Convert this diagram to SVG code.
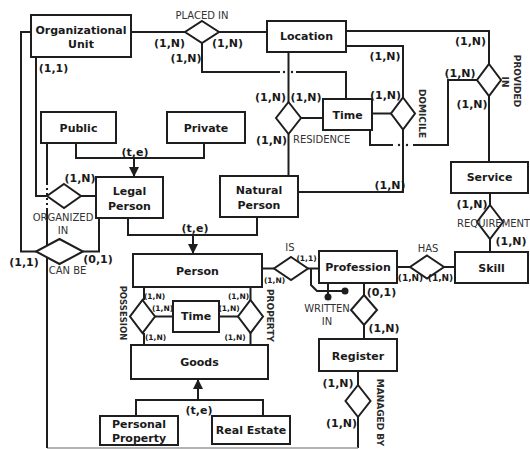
<svg xmlns="http://www.w3.org/2000/svg" width="530" height="449" viewBox="0 0 530 449">
  <defs>
    <style>
      .ent rect { fill: #fff; stroke: #1e1e1e; stroke-width: 2; }
      .ent text { font-family: "DejaVu Sans", Verdana, sans-serif; font-weight: bold; font-size: 11px; fill: #1a1a1a; text-anchor: middle; }
      .rel polygon { fill: #fff; stroke: #1e1e1e; stroke-width: 2; }
      .lines path { fill: none; stroke: #1e1e1e; stroke-width: 2; }
      .lines .dot { fill: #1e1e1e; stroke: none; }
      .card { font-family: "DejaVu Sans", Verdana, sans-serif; font-weight: bold; font-size: 11px; fill: #1a1a1a; text-anchor: middle; }
      .sm { font-size: 7.5px; }
      .md { font-size: 9px; }
      .name { font-family: "DejaVu Sans", Verdana, sans-serif; font-size: 10px; fill: #333; text-anchor: middle; }
      .vname { font-family: "DejaVu Sans", Verdana, sans-serif; font-weight: bold; font-size: 9px; fill: #2a2a2a; text-anchor: middle; }
    </style>
    <marker id="arr" viewBox="0 0 10 10" refX="9" refY="5" markerWidth="5" markerHeight="5" orient="auto">
      <path d="M0,0 L10,5 L0,10 z" fill="#1e1e1e"/>
    </marker>
  </defs>

  <rect width="530" height="449" fill="#fff"/>

  <!-- connectors -->
  <g id="connectors" class="lines">
    <path d="M131,32 H185"/>
    <path d="M219,32 H267"/>
    <path d="M202,43 V72 H280"/>
    <circle class="dot" cx="284" cy="72" r="1.2"/>
    <circle class="dot" cx="292" cy="72" r="1.2"/>
    <path d="M296,72 H346 V99"/>
    <path d="M288.5,52 V102"/>
    <path d="M301,118 H323"/>
    <path d="M288.5,134 V176"/>
    <path d="M346,46 H403 V97.5"/>
    <path d="M372,113.5 H391"/>
    <path d="M403,129.5 V192 H298"/>
    <path d="M346,31 H489 V64"/>
    <path d="M477,80 H448 V145 H413"/>
    <circle class="dot" cx="399" cy="145" r="1.2"/>
    <circle class="dot" cx="407" cy="145" r="1.2"/>
    <path d="M393,145 H370 V130"/>
    <path d="M489,96 V162"/>
    <path d="M490,193 V205"/>
    <path d="M490,239 V252"/>
    <path d="M455,267 H444"/>
    <path d="M410,267 H397"/>
    <path d="M319,268.5 H308"/>
    <path d="M274,268.5 H262"/>
    <path d="M311,268.5 V285 L317,291 H342"/>
    <circle class="dot" cx="345" cy="291" r="3.5"/>
    <path d="M328,283 V294"/>
    <circle class="dot" cx="328" cy="297" r="3.5"/>
    <path d="M364,283 V295"/>
    <path d="M364,325 V339"/>
    <path d="M358,371 V385"/>
    <path d="M358,417 V448"/>
    <path d="M47,448 H358" style="stroke:#9a9a9a;stroke-width:1.5"/>
    <path d="M47,448 V210"/>
    <path d="M47,183 V210" style="stroke-dasharray:2 3"/>
    <path d="M47,183 V143"/>
    <path d="M36,57 V196 H47"/>
    <path d="M81,196 H96"/>
    <path d="M31,32 H21 V251.5 H36"/>
    <path d="M83,251.5 H99 V218"/>
    <path d="M76,143 V158 H204 V143"/>
    <path d="M134,158 V176" marker-end="url(#arr)"/>
    <path d="M128,218 V235 H257 V217"/>
    <path d="M193,235 V253" marker-end="url(#arr)"/>
    <path d="M144,287 V300"/>
    <path d="M144,333 V345"/>
    <path d="M250.5,287 V300"/>
    <path d="M250.5,333 V345"/>
    <path d="M155,316.5 H173"/>
    <path d="M219,316.5 H238"/>
    <path d="M136,416 V400 H263 V416"/>
    <path d="M198,400 V380" marker-end="url(#arr)"/>
  </g>

  <!-- entities -->
  <g id="organizational-unit" class="ent"><rect x="31" y="15" width="100" height="42"/><text x="81" y="34">Organizational</text><text x="81" y="48">Unit</text></g>
  <g id="location" class="ent"><rect x="267" y="21" width="79" height="31"/><text x="306.5" y="40">Location</text></g>
  <g id="time-location" class="ent"><rect x="323" y="99" width="49" height="31"/><text x="347.5" y="119">Time</text></g>
  <g id="public" class="ent"><rect x="41" y="112" width="75" height="31"/><text x="78.5" y="132">Public</text></g>
  <g id="private" class="ent"><rect x="167" y="112" width="78" height="31"/><text x="206" y="132">Private</text></g>
  <g id="legal-person" class="ent"><rect x="96" y="177" width="67" height="41"/><text x="129.5" y="195">Legal</text><text x="129.5" y="210">Person</text></g>
  <g id="natural-person" class="ent"><rect x="220" y="176" width="78" height="41"/><text x="259" y="194">Natural</text><text x="259" y="209">Person</text></g>
  <g id="service" class="ent"><rect x="451" y="162" width="77" height="31"/><text x="489.5" y="181">Service</text></g>
  <g id="person" class="ent"><rect x="133" y="254" width="129" height="33"/><text x="197.5" y="275">Person</text></g>
  <g id="profession" class="ent"><rect x="319" y="251" width="78" height="32"/><text x="358" y="271">Profession</text></g>
  <g id="skill" class="ent"><rect x="455" y="252" width="73" height="31"/><text x="491.5" y="272">Skill</text></g>
  <g id="time-goods" class="ent"><rect x="173" y="301" width="46" height="31"/><text x="196" y="320">Time</text></g>
  <g id="goods" class="ent"><rect x="131" y="345" width="137" height="34"/><text x="199.5" y="366">Goods</text></g>
  <g id="register" class="ent"><rect x="319" y="339" width="78" height="32"/><text x="358" y="360">Register</text></g>
  <g id="personal-property" class="ent"><rect x="100" y="416" width="78" height="29"/><text x="139" y="428">Personal</text><text x="139" y="442">Property</text></g>
  <g id="real-estate" class="ent"><rect x="212" y="416" width="78" height="28"/><text x="251" y="434">Real Estate</text></g>

  <!-- relationships -->
  <g id="placed-in" class="rel"><polygon points="202,21 219,32 202,43 185,32"/><text class="name" x="202" y="18.5">PLACED  IN</text></g>
  <g id="residence" class="rel"><polygon points="288.5,102 301,118 288.5,134 276,118"/><text class="name" x="293" y="143" style="text-anchor:start">RESIDENCE</text></g>
  <g id="domicile" class="rel"><polygon points="403,97.5 415,113.5 403,129.5 391,113.5"/><text class="vname" transform="translate(418.5,113.5) rotate(90)">DOMICILE</text></g>
  <g id="provided-in" class="rel"><polygon points="489,64 501,80 489,96 477,80"/><text class="vname" transform="translate(513.5,81) rotate(90)">PROVIDED</text><text class="vname" transform="translate(501.5,82) rotate(90)">IN</text></g>
  <g id="organized-in" class="rel"><polygon points="64,184 81,196 64,208 47,196"/><text class="name" x="63" y="221">ORGANIZED</text><text class="name" x="63" y="234">IN</text></g>
  <g id="can-be" class="rel"><polygon points="59.5,239 83,251.5 59.5,264 36,251.5"/><text class="name" x="67.5" y="274">CAN BE</text></g>
  <g id="requirement" class="rel"><polygon points="490,205 503,222 490,239 477,222"/><text class="name" x="457" y="227" style="text-anchor:start">REQUIREMENT</text></g>
  <g id="is" class="rel"><polygon points="291,257 308,268.5 291,280 274,268.5"/><text class="name" x="290" y="251">IS</text></g>
  <g id="has" class="rel"><polygon points="427,255.5 444,267 427,278.5 410,267"/><text class="name" x="428" y="252">HAS</text></g>
  <g id="possesion" class="rel"><polygon points="142.5,300 155,316.5 142.5,333 130,316.5"/><text class="vname" style="font-size:8.5px" transform="translate(120,313) rotate(90)">POSSESION</text></g>
  <g id="property" class="rel"><polygon points="250.5,300 263,316.5 250.5,333 238,316.5"/><text class="vname" transform="translate(266.5,315.5) rotate(90)">PROPERTY</text></g>
  <g id="written-in" class="rel"><polygon points="364,295 377,310 364,325 351,310"/><text class="name" x="327" y="312">WRITTEN</text><text class="name" x="327" y="325">IN</text></g>
  <g id="managed-by" class="rel"><polygon points="358,385 370.5,401 358,417 345.5,401"/><text class="vname" transform="translate(376.5,412.5) rotate(90)">MANAGED BY</text></g>

  <!-- cardinalities and specialisation labels -->
  <g id="cardinalities">
    <text class="card" x="169.5" y="47">(1,N)</text>
    <text class="card" x="227.5" y="47">(1,N)</text>
    <text class="card" x="186" y="62">(1,N)</text>
    <text class="card" x="53.5" y="72">(1,1)</text>
    <text class="card" x="270.5" y="101">(1,N)</text>
    <text class="card" x="306" y="101">(1,N)</text>
    <text class="card" x="271.5" y="144">(1,N)</text>
    <text class="card" x="385" y="60">(1,N)</text>
    <text class="card" x="385.5" y="99">(1,N)</text>
    <text class="card" x="390" y="189">(1,N)</text>
    <text class="card" x="470.5" y="45">(1,N)</text>
    <text class="card" x="460" y="77">(1,N)</text>
    <text class="card" x="472" y="108">(1,N)</text>
    <text class="card" x="472" y="208">(1,N)</text>
    <text class="card" x="511" y="245">(1,N)</text>
    <text class="card md" x="410.5" y="281">(1,N)</text>
    <text class="card md" x="440.5" y="281">(1,N)</text>
    <text class="card sm" x="306.5" y="261">(1,1)</text>
    <text class="card sm" x="274.5" y="283">(1,N)</text>
    <text class="card sm" x="154.5" y="299">(1,N)</text>
    <text class="card sm" x="162.5" y="311">(1,N)</text>
    <text class="card sm" x="155.5" y="340">(1,N)</text>
    <text class="card sm" x="238.5" y="299">(1,N)</text>
    <text class="card sm" x="229" y="311">(1,N)</text>
    <text class="card sm" x="235" y="340">(1,N)</text>
    <text class="card" x="381.5" y="296">(0,1)</text>
    <text class="card" x="384" y="332">(1,N)</text>
    <text class="card" x="338" y="387">(1,N)</text>
    <text class="card" x="341.5" y="427">(1,N)</text>
    <text class="card" x="80" y="182">(1,N)</text>
    <text class="card" x="24" y="266">(1,1)</text>
    <text class="card" x="98" y="263">(0,1)</text>
    <text class="card" x="135" y="156">(t,e)</text>
    <text class="card" x="195" y="232">(t,e)</text>
    <text class="card" x="199" y="414">(t,e)</text>
  </g>
</svg>
